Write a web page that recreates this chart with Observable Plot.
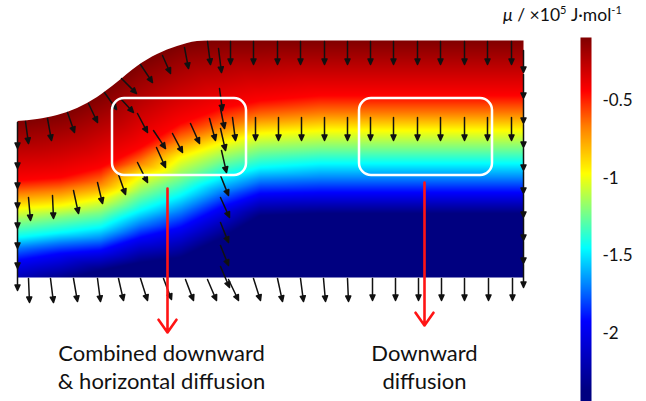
<!DOCTYPE html>
<html><head><meta charset="utf-8">
<script src="https://cdn.jsdelivr.net/npm/d3@7"></script>
<script src="https://cdn.jsdelivr.net/npm/@observablehq/plot@0.6"></script>
<style>
body{margin:0;background:#fff;}
#wrap{position:relative;width:646px;height:401px;font-family:Lato,"Open Sans",sans-serif;overflow:hidden;}
#wrap > svg, #wrap > div{position:absolute;}
#title{left:503px;top:4px;font-size:17.5px;white-space:nowrap;color:#111;}
#title sup{font-size:11px;vertical-align:0;position:relative;top:-0.6em;}
</style></head><body><div id="wrap"><div id="title"><i>μ</i> / ×10<sup>5</sup> J·mol<sup>-1</sup></div></div>
<script>
// ---- colour bar (μ in 1e5 J/mol) ----
const muStops   = [-2.45, -2.37, -1.92, -1.69, -1.45, -1.21, -0.97, -0.67, -0.44, -0.095];
const stopColors = ["#000080", "#000080", "#0000ff", "#0080ff", "#00ffff", "#80ff80", "#ffff00", "#ff8000", "#ff0000", "#800000"];
const barTicks = [-0.5, -1, -1.5, -2];
const barMin = -2.437, barMax = -0.0946;

// ---- field: depth (from top of domain) of each μ level at each column ----
const colX = [0, 43, 83, 123, 163, 203, 243, 303, 506];
const levelMu = [-0.095, -0.44, -0.67, -0.97, -1.21, -1.45, -1.69, -1.92, -2.37, -2.45];
const depthTop    = [81, 74, 55, 24, 5, 0, 0, 0, 0];
const depthRed    = [140, 137, 127, 107, 83, 68, 60, 55, 55];
const depthOrange = [153, 150, 143, 122, 100, 87, 77, 73, 73];
const depthYellow = [168, 165, 158, 136, 117, 103, 93, 90, 90];
const depthGreen  = [182, 177, 172, 153, 137, 120, 110, 107, 107];
const depthCyan   = [197, 192, 187, 170, 155, 137, 127, 123, 123];
const depthAzure  = [207, 202, 199, 184, 171, 152, 140, 138, 138];
const depthBlue   = [220, 213, 210, 197, 187, 167, 153, 152, 152];
const depthNavy   = [250, 240, 230, 222, 217, 198, 175, 173, 173];
const depthBottom = [260, 260, 260, 260, 260, 260, 260, 260, 260];
const capX = [0, 43, 83, 123, 163];

// ---- top boundary of the domain ----
const boundaryX = [0, 20, 40, 60, 80, 100, 120, 140, 160, 180, 195, 506];
const boundaryD = [81, 79, 75, 68, 57, 42, 26, 14, 6, 1, 0, 0];

// ---- flux arrows [x0, d0, x1, d1] ----
const topArrows = [[8,81,11,103],[30,78,34,100],[50,72,57,92],[71,63,80,82],[87,52,99,69],[104,38,119,53],[123,24,135,42],[145,15,153,33],[167,7,171,28],[190,1,193,24],
  [213,1,213,24],[236,1,236,24],[260,1,260,24],[283,1,283,24],[307,1,307,24],[330,1,330,24],[353,1,353,24],[376,1,376,24],[400,1,400,24],[423,1,423,24],[447,1,447,24],[470,1,470,24],[494,1,494,24]];
const diagArrows = [[103,58,116,72],[120,73,130,92],[136,90,148,108]];
const layerArrows = [[11,157,13,180],[35,155,36,178],[56,150,61,173],[80,142,85,163],[101,134,108,154],[120,122,130,142],[139,107,148,127],[155,93,165,112],[173,83,182,103],[192,78,198,100],[215,77,218,100],
  [238,77,238,100],[261,77,261,100],[284,77,284,100],[307,77,307,100],[330,77,330,100],[353,77,353,100],[376,77,376,100],[400,77,400,100],[423,77,423,100],[447,77,447,100],[470,77,470,100],[494,77,494,100]];
const interfaceArrows = [[201,8,204,32],[202,48,205,70],[203,68,207,88],[203,88,208,110],[204,110,209,132],[203,135,211,155],[203,157,212,177],[203,182,211,202],[203,205,211,225],[203,226,212,247]];
const leftArrows = [[0,82,0,108],[0,108,0,128],[0,128,0,148],[0,148,0,168],[0,168,0,188],[0,188,0,208],[0,208,0,228],[0,228,0,250]];
const rightArrows = [[506,10,506,32],[506,34,506,58],[506,59,506,83],[506,84,506,107],[506,108,506,130],[506,131,506,153],[506,154,506,177],[506,178,506,200],[506,201,506,223],[506,224,506,247]];
const bottomArrows = [[11,238,12,262],[33,238,36,262],[56,238,60,261],[80,238,83,261],[101,238,106,260],[123,238,130,260],[146,238,154,259],[168,239,176,260],[190,239,199,260],[211,239,221,260],[236,238,243,260],[260,238,265,261],[283,238,286,261],[306,238,308,261],[330,238,331,261],
  [355,238,355,260],[378,238,378,260],[401,238,401,260],[424,238,424,260],[447,238,447,260],[471,238,471,260],[495,238,495,260]];

// ---- annotations ----
const boxX1 = [95, 342], boxX2 = [229, 475], boxD1 = [58, 58], boxD2 = [135, 135];
const pointerX = [150, 407], pointerFrom = [148, 142], pointerTo = [292, 285];
const labelX = [144, 407], labelD = [326, 326];
const labelText = ["Combined downward\n& horizontal diffusion", "Downward\ndiffusion"];

// ---- build tables ----
const levelRows = [depthTop, depthRed, depthOrange, depthYellow, depthGreen, depthCyan, depthAzure, depthBlue, depthNavy, depthBottom];
const samples = [];
levelRows.forEach((row, k) => row.forEach((d, i) => samples.push({x: colX[i], d, mu: levelMu[k]})));
capX.forEach(x => samples.push({x, d: 0, mu: levelMu[0]}));
const boundary = boundaryX.map((x, i) => ({x, d: boundaryD[i]}));
const arrows = [...topArrows, ...diagArrows, ...layerArrows, ...interfaceArrows, ...leftArrows, ...rightArrows, ...bottomArrows]
  .map(([x0, d0, x1, d1]) => ({x0, d0, rot: Math.atan2(x1 - x0, -(d1 - d0)) * 180 / Math.PI, len: Math.hypot(x1 - x0, d1 - d0)}));
const boxes = boxX1.map((x1, i) => ({x1, x2: boxX2[i], d1: boxD1[i], d2: boxD2[i]}));
const pointers = pointerX.map((x, i) => ({x, d0: pointerFrom[i], d1: pointerTo[i]}));
const labels = labelX.map((x, i) => ({x, d: labelD[i], text: labelText[i]}));

const colorScale = {type: "linear", domain: muStops, range: stopColors, interpolate: "rgb", clamp: true};
const arrowShape = {draw(ctx, l) { const h = 5.5, w = 2.5; ctx.moveTo(0, 0); ctx.lineTo(0, -l + h); ctx.moveTo(0, -l); ctx.lineTo(-w, -l + h); ctx.lineTo(w, -l + h); ctx.closePath(); }};

const main = Plot.plot({
  width: 646, height: 401, marginLeft: 17, marginRight: 123, marginTop: 40, marginBottom: 124,
  x: {domain: [0, 506], range: [17, 523], axis: null},
  y: {domain: [0, 237], range: [40, 277], axis: null},
  color: colorScale,
  length: {type: "identity"},
  style: {fontFamily: "Lato, 'Open Sans', sans-serif", background: "white", overflow: "visible"},
  marks: [
    Plot.raster(samples, {x: "x", y: "d", fill: "mu", interpolate: "barycentric", x1: 0, x2: 506, y1: 0, y2: 237}),
    Plot.areaY(boundary, {x: "x", y1: -2, y2: "d", fill: "white", curve: "monotone-x"}),
    Plot.vector(arrows, {x: "x0", y: "d0", rotate: "rot", length: "len", anchor: "start", shape: arrowShape, stroke: "#111", fill: "#111", strokeWidth: 1.5}),
    Plot.rect(boxes, {x1: "x1", x2: "x2", y1: "d1", y2: "d2", rx: 12, fill: "none", stroke: "white", strokeWidth: 2.5}),
    Plot.arrow(pointers, {x1: "x", y1: "d0", x2: "x", y2: "d1", stroke: "#ff1414", strokeWidth: 2.6, headLength: 9, headAngle: 70}),
    Plot.text(labels, {x: "x", y: "d", text: "text", fontSize: 22, lineHeight: 1.27, fill: "#111", textAnchor: "middle"})
  ]
});
main.style.left = "0px"; main.style.top = "0px";

const bar = Plot.plot({
  width: 76, height: 401, marginLeft: 10, marginRight: 55, marginTop: 37, marginBottom: 0,
  x: {domain: [0, 1], axis: null},
  y: {domain: [barMin, barMax], axis: null},
  color: colorScale,
  style: {fontFamily: "Lato, 'Open Sans', sans-serif", background: "transparent", overflow: "visible"},
  marks: [
    Plot.raster({fill: (x, y) => y, x1: 0, x2: 1, y1: barMin, y2: barMax}),
    Plot.axisY(barTicks, {anchor: "right", tickSize: 0, tickPadding: 11, tickFormat: d => String(d), fontSize: 17, label: null, fill: "#111"})
  ]
});
bar.style.left = "570px"; bar.style.top = "0px";
const wrap = document.getElementById("wrap");
wrap.insertBefore(main, wrap.firstChild);
wrap.appendChild(bar);
</script></body></html>
